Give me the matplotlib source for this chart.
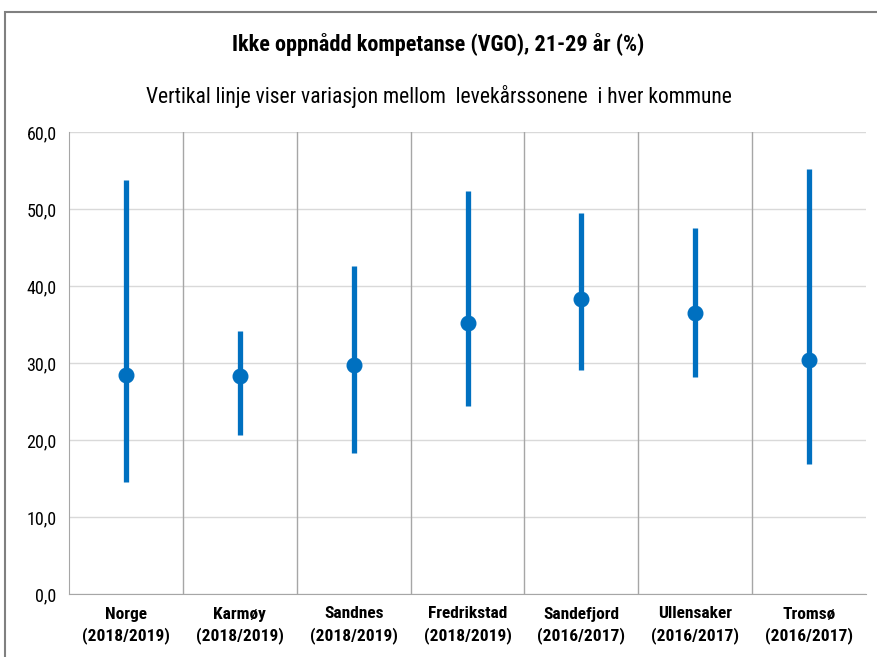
import matplotlib.pyplot as plt
import matplotlib.patches as mpatches
from matplotlib import font_manager

names = {f.name for f in font_manager.fontManager.ttflist}
fam = 'Liberation Sans'
for cand in ['Liberation Sans Narrow', 'Arial Narrow', 'Roboto Condensed',
             'Open Sans Condensed', 'DejaVu Sans Condensed']:
    if cand in names:
        fam = cand
        break
plt.rcParams['font.family'] = [fam, 'DejaVu Sans']

kommuner = ['Norge', 'Karmøy', 'Sandnes', 'Fredrikstad', 'Sandefjord', 'Ullensaker', 'Tromsø']
perioder = ['(2018/2019)', '(2018/2019)', '(2018/2019)', '(2018/2019)',
            '(2016/2017)', '(2016/2017)', '(2016/2017)']
verdi = [28.4, 28.3, 29.7, 35.2, 38.3, 36.5, 30.4]
maks = [53.8, 34.2, 42.6, 52.3, 49.5, 47.5, 55.2]
minst = [14.5, 20.6, 18.3, 24.4, 29.1, 28.2, 16.9]
yticks = [0, 10, 20, 30, 40, 50, 60]

blue = '#0070C0'

fig = plt.figure(figsize=(8.77, 6.57), dpi=100)
# outer chart frame
fig.patches.append(mpatches.Rectangle((5 / 877, -0.05), 1.1, 1 - 12 / 657 + 0.05,
                                      transform=fig.transFigure, fill=False,
                                      edgecolor='#808080', linewidth=1.5))

ax = fig.add_axes([69 / 877, 63 / 657, 797 / 877, 462 / 657])
x = list(range(len(kommuner)))

ax.vlines(x, minst, maks, color=blue, linewidth=3.8, zorder=3)
ax.plot(x, verdi, 'o', color=blue, markersize=10.5, zorder=4)

ax.set_xlim(-0.5, len(kommuner) - 0.5)
ax.set_ylim(0, 60)
ax.set_yticks(yticks)
ax.set_yticklabels([f'{v:.1f}'.replace('.', ',') for v in yticks], fontsize=13)
ax.set_xticks(x)
ax.set_xticklabels([f'{k}\n{p}' for k, p in zip(kommuner, perioder)],
                   fontsize=12.5, fontweight='bold', linespacing=1.4)
ax.tick_params(axis='both', length=0, pad=9)
ax.tick_params(axis='x', pad=9)

ax.grid(axis='y', color='#d9d9d9', linewidth=1)
for sep in range(1, len(kommuner)):
    ax.axvline(sep - 0.5, color='#a6a6a6', linewidth=1, zorder=1)

for s in ['top', 'right']:
    ax.spines[s].set_visible(False)
ax.spines['left'].set_color('#a6a6a6')
ax.spines['bottom'].set_color('#a6a6a6')
ax.set_axisbelow(True)

fig.text(0.5, 1 - 44 / 657, 'Ikke oppnådd kompetanse (VGO), 21-29 år (%)',
         ha='center', va='center', fontsize=16, fontweight='bold')
fig.text(0.5, 1 - 97 / 657, 'Vertikal linje viser variasjon mellom  levekårssonene  i hver kommune',
         ha='center', va='center', fontsize=15.5)

fig.savefig('out.png', dpi=100)
